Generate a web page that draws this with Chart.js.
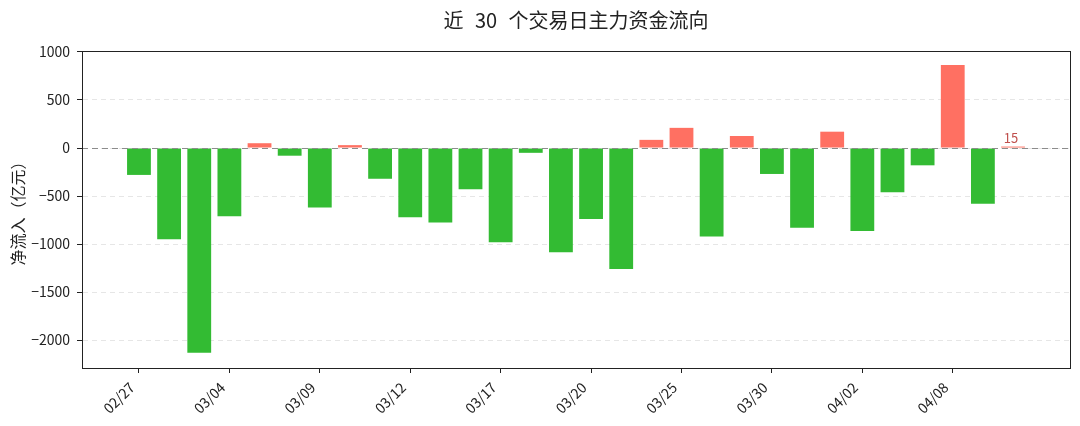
<!DOCTYPE html>
<html lang="zh-CN">
<head>
  <meta charset="UTF-8">
  <title>近 30 个交易日主力资金流向</title>
  <script src="https://cdn.jsdelivr.net/npm/chart.js"></script>
  <style>
    html, body { margin: 0; padding: 0; background: #fff; }
    #grafica { display: block; }
  </style>
</head>
<body>
  <canvas id="grafica" width="1080" height="426"></canvas>

  <script>
    // trading days (MM/DD) and net main-force flow, 亿元
    const dates = [
      '02/27', '02/28', '03/03', '03/04', '03/05', '03/06', '03/09', '03/10', '03/11', '03/12',
      '03/13', '03/16', '03/17', '03/18', '03/19', '03/20', '03/23', '03/24', '03/25', '03/26',
      '03/27', '03/30', '03/31', '04/01', '04/02', '04/03', '04/07', '04/08', '04/09', '04/10'
    ];
    const netFlow = [
      -280, -950, -2130, -710, 50, -80, -620, 30, -320, -720,
      -775, -430, -980, -50, -1085, -740, -1260, 85, 210, -920,
      125, -270, -830, 170, -865, -460, -180, 865, -580, 15
    ];
    const xTickLabels = ['02/27', '03/04', '03/09', '03/12', '03/17', '03/20', '03/25', '03/30', '04/02', '04/08'];
    const yTicks = [1000, 500, 0, -500, -1000, -1500, -2000];
    const title = '近 30 个交易日主力资金流向';

    const font = '"Noto Sans CJK SC", "Noto Sans", sans-serif';
    const green = '#33bb33';
    const red = '#ff7062';

    const extras = {
      id: 'extras',
      afterDatasetsDraw(chart) {
        const { ctx, chartArea: a, scales: { y } } = chart;
        ctx.save();
        // zero line
        const y0 = Math.round(y.getPixelForValue(0)) + 0.5;
        ctx.strokeStyle = '#8c8c8c';
        ctx.lineWidth = 1;
        ctx.setLineDash([6, 4]);
        ctx.beginPath();
        ctx.moveTo(a.left, y0);
        ctx.lineTo(a.right, y0);
        ctx.stroke();
        ctx.setLineDash([]);
        // box around the plot
        ctx.strokeStyle = '#222';
        ctx.strokeRect(Math.round(a.left) + 0.5, Math.round(a.top) + 0.5,
          Math.round(a.right - a.left), Math.round(a.bottom - a.top));
        // value of the last day
        const last = netFlow.length - 1;
        const bar = chart.getDatasetMeta(0).data[last];
        ctx.fillStyle = '#c0504d';
        ctx.font = '13px ' + font;
        ctx.textAlign = 'center';
        ctx.textBaseline = 'bottom';
        ctx.fillText(String(netFlow[last]), bar.x - 2, Math.min(bar.y, bar.base) - 2);
        // title, centred over the plot area
        ctx.fillStyle = '#222';
        ctx.font = '20px ' + font;
        ctx.wordSpacing = '7px';
        ctx.textBaseline = 'middle';
        ctx.fillText(title, (a.left + a.right) / 2, 20);
        ctx.restore();
      }
    };

    new Chart(document.getElementById('grafica'), {
      type: 'bar',
      data: {
        datasets: [{
          data: netFlow.map((v, i) => ({ x: i, y: v })),
          backgroundColor: netFlow.map(v => v >= 0 ? red : green),
          borderWidth: 0,
          barPercentage: 1,
          categoryPercentage: 0.79
        }]
      },
      options: {
        responsive: false,
        animation: false,
        layout: { padding: { left: 0, right: 10, top: 51, bottom: 0 } },
        plugins: {
          legend: { display: false },
          tooltip: { enabled: false },
          title: { display: false }
        },
        scales: {
          x: {
            type: 'linear',
            min: -1.89,
            max: 30.89,
            offset: false,
            grid: { offset: false, drawOnChartArea: false, tickColor: '#222', tickLength: 5 },
            border: { color: '#222' },
            afterBuildTicks: axis => {
              axis.ticks = xTickLabels.map(d => ({ value: dates.indexOf(d) }));
            },
            afterFit: axis => { axis.height = 58; },
            ticks: {
              autoSkip: false,
              minRotation: 45,
              maxRotation: 45,
              padding: 6,
              labelOffset: -7,
              color: '#222',
              font: { family: font, size: 14 },
              callback: v => dates[v]
            }
          },
          y: {
            min: -2290,
            max: 1010,
            grid: { color: '#e6e6e6', tickColor: '#222', tickLength: 5, tickBorderDash: [] },
            border: { color: '#222', dash: [5, 4] },
            afterBuildTicks: axis => {
              axis.ticks = yTicks.map(v => ({ value: v }));
            },
            afterFit: axis => { axis.width = 82; },
            title: {
              display: true,
              text: '净流入（亿元）',
              color: '#222',
              font: { family: font, size: 16 },
              padding: { top: 8, bottom: 0 }
            },
            ticks: {
              padding: 7,
              color: '#222',
              font: { family: font, size: 14 },
              callback: v => String(v).replace('-', '\u2212')
            }
          }
        }
      },
      plugins: [extras]
    });
  </script>
</body>
</html>
